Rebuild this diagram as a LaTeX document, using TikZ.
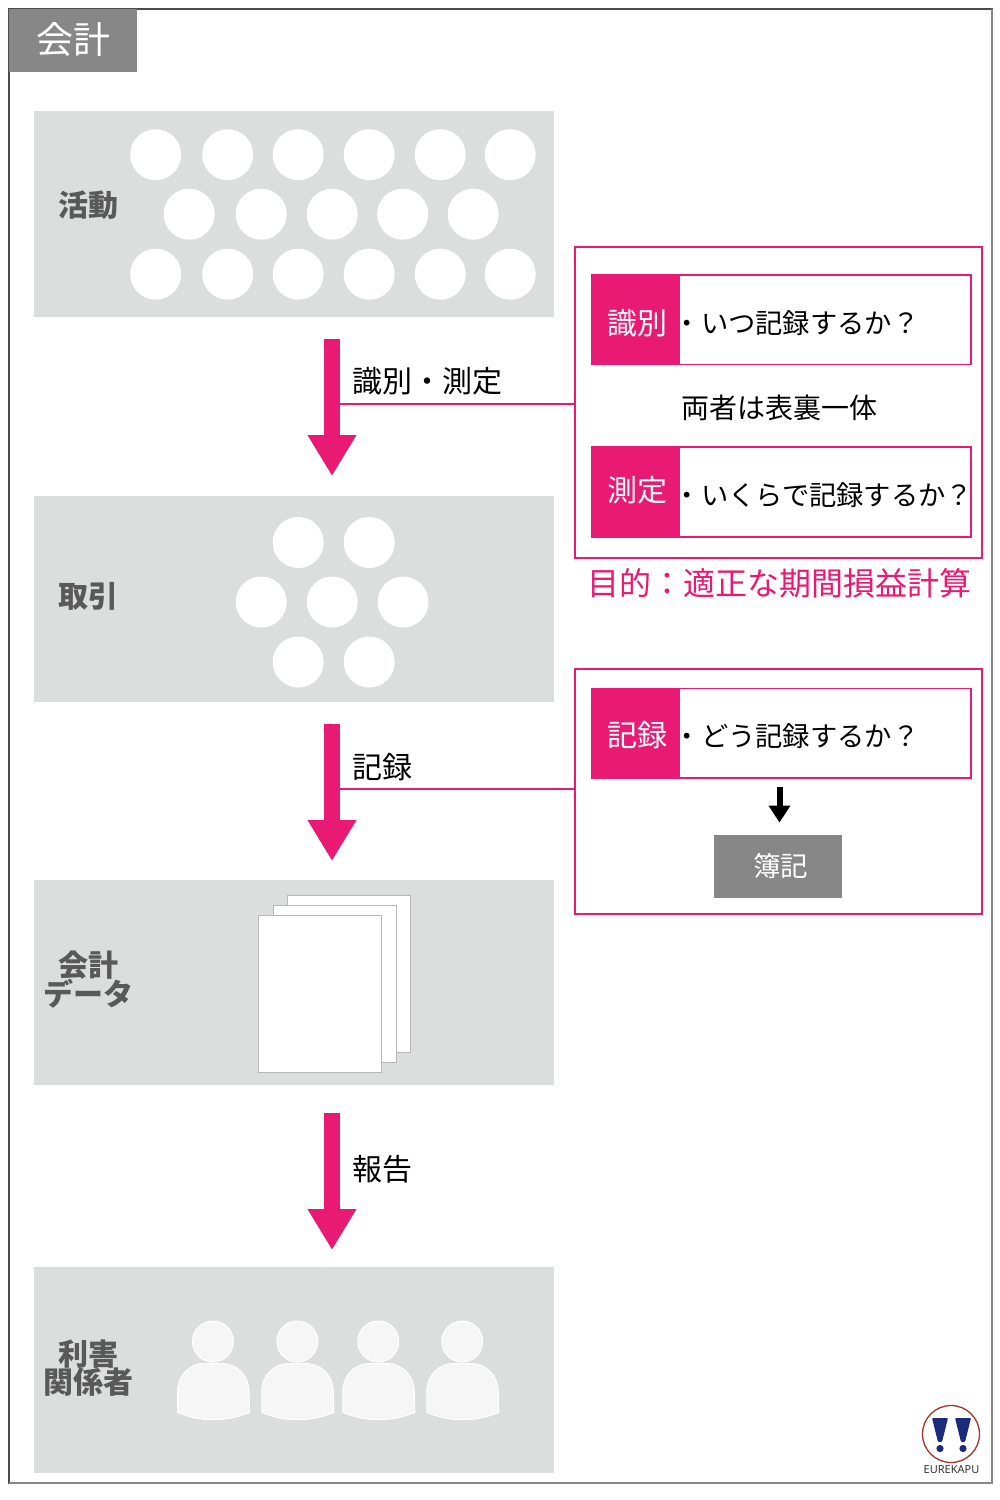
\documentclass[tikz,border=0pt]{standalone}
\usepackage{fontspec}
\setmainfont{Noto Sans CJK JP}
\newfontfamily\latinlogo{Noto Sans}
\usetikzlibrary{arrows.meta,positioning,calc}
\definecolor{pinkc}{HTML}{E91A73}
\definecolor{panelc}{HTML}{DCDEDD}
\definecolor{grayc}{HTML}{878787}
\definecolor{labelc}{HTML}{595959}
\definecolor{personc}{HTML}{F5F6F5}
\definecolor{navyc}{HTML}{1B2A7A}
\definecolor{logoc}{HTML}{A5322B}
\newcommand{\fs}[1]{\fontsize{#1}{#1}\selectfont}
\tikzset{
  x=1pt,y=-1pt,
  every node/.style={inner sep=0pt,outer sep=0pt},
  panelbox/.style={fill=panelc,minimum width=520.5pt},
  panellabel/.style={text=labelc,font=\fs{30}\bfseries,align=center},
  dot/.style={circle,fill=white,minimum size=51pt},
  sheet/.style={draw=black!28,line width=1pt,fill=white},
  flowarrow/.style={pinkc,line width=16pt,-{Triangle[width=46pt,length=41pt]}},
  plainlink/.style={draw=pinkc,line width=2pt},
  outerbox/.style={draw=pinkc,line width=1.8pt},
  innerbox/.style={draw=pinkc,line width=1.6pt,fill=white},
  tagbox/.style={fill=pinkc,minimum width=88.5pt,minimum height=90pt},
  tagtext/.style={text=white,font=\fs{30}},
  flowlabel/.style={anchor=west,font=\fs{30},text=black},
  bodytext/.style={anchor=west,font=\fs{27.3},text=black},
  person/.style={fill=personc,draw=white,line width=1pt},
}
\begin{document}
\begin{tikzpicture}
\useasboundingbox (0,0) rectangle (1000,1500);
\fill[white] (0,0) rectangle (1000,1500);
% frame
\draw[draw=black!70,line width=1.2pt] (9,9) rectangle (992,1483);
\draw[grayc,line width=2pt] (992,9) -- (992,1483) -- (9,1483);
\node[fill=grayc,minimum width=128.5pt,minimum height=63pt,anchor=north west] (title) at (8.8,9) {};
\node[text=white,font=\fs{37}] (titlet) at (73.5,40) {会計};
% panels
\node[panelbox,minimum height=206pt,anchor=north west] (p1) at (33.5,111.2) {};
\node[panelbox,minimum height=206pt,anchor=north west] (p2) at (33.5,496.2) {};
\node[panelbox,minimum height=205.3pt,anchor=north west] (p3) at (33.5,880) {};
\node[panelbox,minimum height=206pt,anchor=north west] (p4) at (33.5,1267.3) {};
\node[panellabel] (l1) at (88,205) {活動};
\node[panellabel] (l2) at (88,596) {取引};
\node[panellabel,font=\fontsize{30}{29}\selectfont\bfseries] (l3) at (88,979.5) {会計\\[-1pt]データ};
\node[panellabel,font=\fontsize{30}{29}\selectfont\bfseries] (l4) at (88,1368) {利害\\[-1pt]関係者};
% dots of panel 1
\foreach \y in {154.7,274.2}{\foreach \x in {155.7,227.7,298.2,369.2,440.2,510.2}{\node[dot] at (\x,\y) {};}}
\foreach \x in {189.2,261.2,332.2,402.7,473.2}{\node[dot] at (\x,214.2) {};}
% dots of panel 2
\foreach \y in {542.5,662}{\foreach \x in {298.2,369.2}{\node[dot] at (\x,\y) {};}}
\foreach \x in {261.2,332.2,403}{\node[dot] at (\x,602) {};}
% sheets
\draw[sheet] (287,895) rectangle (410,1052.6);
\draw[sheet] (273,905) rectangle (396,1062.6);
\draw[sheet] (258.5,915) rectangle (381.5,1072.6);
% persons
\foreach \dx in {0,84.3,165.3,249.3}{
\begin{scope}[xshift=\dx pt]
\draw[person] (213,1341.5) circle (20.5);
\draw[person] (177.5,1412.5) -- (177.5,1392) .. controls (177.5,1375) and (190,1363.5) .. (204,1363.5) -- (222,1363.5) .. controls (237,1363.5) and (249,1376) .. (249,1392) -- (249.5,1412.5) .. controls (232,1419) and (225,1419.5) .. (212,1419.5) .. controls (199,1419.5) and (193,1418) .. (177.5,1412.5) -- cycle;
\end{scope}}
% flow arrows
\coordinate (a1s) at (332,339); \coordinate (a1e) at (332,476);
\coordinate (a2s) at (332,724); \coordinate (a2e) at (332,861);
\coordinate (a3s) at (332,1113); \coordinate (a3e) at (332,1250);
% outer boxes
\draw[outerbox] (575,247) rectangle (982,558);
\draw[outerbox] (575,669) rectangle (982,914);
\coordinate (box1w) at (575,404.2); \coordinate (box2w) at (575,789.2);
\coordinate (a1j) at (340,404.2); \coordinate (a2j) at (340,789.2);
\draw[plainlink] (a1j) -- (box1w);
\draw[plainlink] (a2j) -- (box2w);
\draw[flowarrow] (a1s) -- (a1e);
\draw[flowarrow] (a2s) -- (a2e);
\draw[flowarrow] (a3s) -- (a3e);
\node[flowlabel] (f1) at (352.5,381) {識別・測定};
\node[flowlabel] (f2) at (352.5,767) {記録};
\node[flowlabel] (f3) at (352.5,1169) {報告};
% inner boxes
\draw[innerbox] (591.5,275) rectangle (971,364.5);
\draw[innerbox] (591.5,447) rectangle (971,537);
\draw[innerbox] (591.5,688.5) rectangle (971,778);
\node[tagbox,anchor=north west] (t1) at (591.2,274.5) {};
\node[tagbox,anchor=north west] (t2) at (591.2,447) {};
\node[tagbox,anchor=north west] (t3) at (591.2,688) {};
\node[tagtext] (tt1) at (637.5,323) {識別};
\node[tagtext] (tt2) at (637.5,490) {測定};
\node[tagtext] (tt3) at (637.5,735) {記録};
\node[bodytext] (b1) at (673.7,323.5) {・いつ記録するか？};
\node[bodytext] (b2) at (673.7,495) {・いくらで記録するか？};
\node[bodytext] (b3) at (673.7,736) {・どう記録するか？};
\node[font=\fs{28},text=black] (both) at (779.7,408) {両者は表裏一体};
\node[font=\fs{32},text=pinkc] (goal) at (779,583) {目的：適正な期間損益計算};
% bookkeeping
\node[fill=grayc,minimum width=128pt,minimum height=63pt,anchor=north west] (bk) at (714,835) {};
\node[text=white,font=\fs{27.5}] (bkt) at (780.5,866.5) {簿記};
\coordinate (sm) at (779.5,787);
\coordinate (se) at (779.5,822.5);
\draw[black,line width=6pt,-{Triangle[width=21pt,length=17pt]}] (sm) -- (se);
% logo
\draw[logoc,line width=1.3pt,fill=white] (951,1434) circle (28.5);
\foreach \cx in {940,963}{
\fill[navyc,rounded corners=1pt] (\cx-8,1418) -- (\cx+8,1418) -- (\cx+2,1442) -- (\cx-2,1442) -- cycle;
\fill[navyc] (\cx,1448.5) circle (3.6);}
\node[font=\latinlogo\fs{11},text=black!80] (logot) at (951.5,1470) {EUREKAPU};
\end{tikzpicture}
\end{document}
